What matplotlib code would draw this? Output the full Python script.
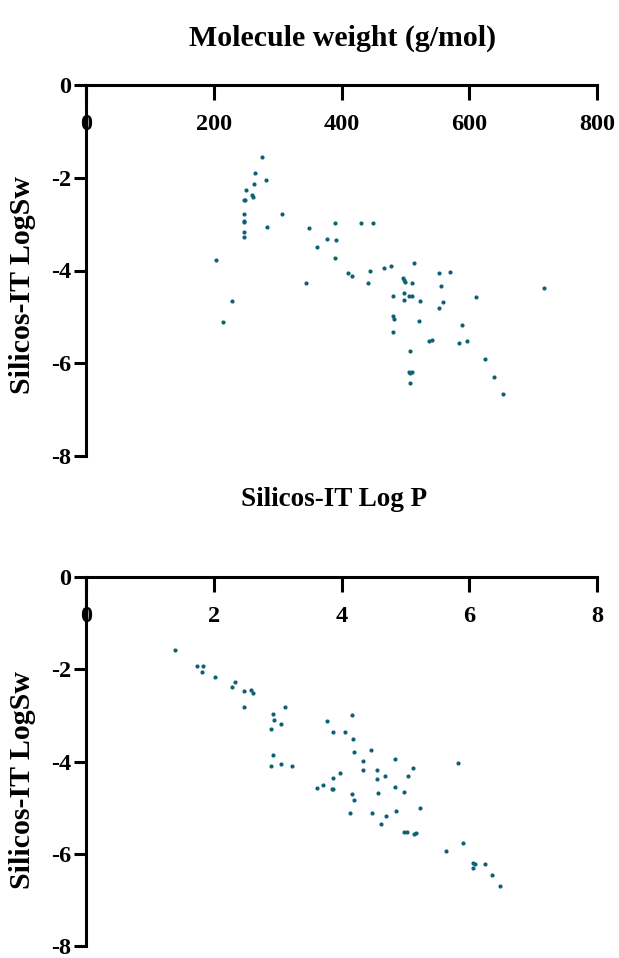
import matplotlib.pyplot as plt
import numpy as np

plt.rcParams['font.family'] = ['Liberation Serif', 'DejaVu Serif']
plt.rcParams['font.weight'] = 'bold'

# top panel: molecule weight vs Silicos-IT LogSw
mw = [276, 265, 282, 263, 250, 260, 262, 249, 248, 307, 248, 248, 248, 283, 248, 248,
      349, 390, 431, 449, 377, 392, 362, 390, 204, 513, 467, 477, 445, 570, 553, 410,
      417, 496, 498, 499, 511, 442, 345, 556, 717, 497, 481, 505, 511, 611, 498, 523,
      558, 229, 553, 481, 482, 521, 214, 589, 481, 537, 541, 597, 584, 507, 625, 506,
      510, 507, 639, 507, 653]
logsw_mw = [-1.56, -1.90, -2.04, -2.14, -2.26, -2.38, -2.41, -2.47, -2.49, -2.79, -2.79,
            -2.94, -2.96, -3.07, -3.16, -3.27, -3.09, -2.97, -2.97, -2.97, -3.33, -3.35,
            -3.49, -3.72, -3.77, -3.83, -3.95, -3.91, -4.01, -4.03, -4.06, -4.06, -4.11,
            -4.16, -4.21, -4.25, -4.28, -4.28, -4.28, -4.33, -4.37, -4.49, -4.54, -4.54,
            -4.56, -4.58, -4.64, -4.66, -4.68, -4.66, -4.81, -4.99, -5.04, -5.09, -5.10,
            -5.17, -5.33, -5.51, -5.50, -5.51, -5.56, -5.74, -5.91, -6.19, -6.19, -6.21,
            -6.29, -6.43, -6.67]

# bottom panel: Silicos-IT Log P vs Silicos-IT LogSw
logp = [1.39, 1.74, 1.83, 1.82, 2.02, 2.34, 2.29, 2.47, 2.58, 2.62, 2.48, 3.12, 2.93,
        2.95, 3.05, 2.89, 2.93, 2.89, 3.05, 3.23, 4.17, 3.77, 3.87, 4.05, 4.18, 4.46,
        4.19, 4.33, 4.83, 5.82, 5.12, 4.34, 4.55, 4.68, 5.04, 3.97, 3.87, 4.55, 3.62,
        3.71, 3.85, 3.87, 4.84, 4.97, 4.57, 4.17, 4.19, 5.23, 4.13, 4.47, 4.86, 4.70,
        4.62, 4.97, 5.03, 5.13, 5.17, 5.90, 5.63, 6.06, 6.08, 6.05, 6.24, 6.36, 6.48]
logsw_p = [-1.58, -1.92, -1.92, -2.06, -2.16, -2.28, -2.38, -2.48, -2.45, -2.51, -2.81,
           -2.81, -2.96, -3.10, -3.18, -3.30, -3.86, -4.10, -4.06, -4.09, -3.00, -3.12,
           -3.37, -3.36, -3.51, -3.75, -3.79, -3.98, -3.94, -4.04, -4.14, -4.19, -4.19,
           -4.31, -4.31, -4.26, -4.36, -4.39, -4.57, -4.51, -4.59, -4.59, -4.56, -4.67,
           -4.69, -4.70, -4.83, -5.01, -5.11, -5.12, -5.08, -5.19, -5.36, -5.53, -5.53,
           -5.57, -5.54, -5.77, -5.94, -6.19, -6.23, -6.30, -6.23, -6.45, -6.70]

mw_ticks = [0, 200, 400, 600, 800]
p_ticks = [0, 2, 4, 6, 8]
y_ticks = [0, -2, -4, -6, -8]

dotColor = '#0d6376'
W, H = 619, 958
fig = plt.figure(figsize=(W / 100, H / 100), dpi=100)

left = 85.7 / W
width = (597.3 - 85.7) / W
ax1 = fig.add_axes([left, 1 - 456 / H, width, 371 / H])
ax2 = fig.add_axes([left, 1 - 946 / H, width, 369 / H])


def styleAxis(ax, xs, ys, xticks, xmax):
    ax.scatter(xs, ys, s=9, color=dotColor, linewidths=0, zorder=3)
    ax.set_xlim(0, xmax)
    ax.set_ylim(-8, 0)
    for side in ['bottom', 'right']:
        ax.spines[side].set_visible(False)
    for side in ['top', 'left']:
        ax.spines[side].set_linewidth(2.2)
    ax.set_xticks(xticks)
    ax.set_xticklabels([str(t) for t in xticks])
    ax.set_yticks(y_ticks)
    ax.set_yticklabels([str(t) for t in y_ticks])
    ax.tick_params(axis='x', top=True, bottom=False, labeltop=True, labelbottom=False,
                   direction='in', length=10.5, width=2.2, pad=-36, labelsize=17.5)
    ax.tick_params(axis='y', direction='out', length=9, width=2.2, pad=1.5, labelsize=17.5)
    ax.set_facecolor('none')


styleAxis(ax1, mw, logsw_mw, mw_ticks, 800)
styleAxis(ax2, logp, logsw_p, p_ticks, 8)

fig.text(343 / W, 1 - 38 / H, 'Molecule weight (g/mol)', ha='center', va='center',
         fontsize=21.5, fontweight='bold')
fig.text(334 / W, 1 - 500 / H, 'Silicos-IT Log P', ha='center', va='center',
         fontsize=19.5, fontweight='bold')
fig.text(22 / W, 1 - 285 / H, 'Silicos-IT LogSw', ha='center', va='center',
         rotation=90, fontsize=21.5, fontweight='bold')
fig.text(22 / W, 1 - 780 / H, 'Silicos-IT LogSw', ha='center', va='center',
         rotation=90, fontsize=21.5, fontweight='bold')

plt.savefig('out.png', dpi=100)
